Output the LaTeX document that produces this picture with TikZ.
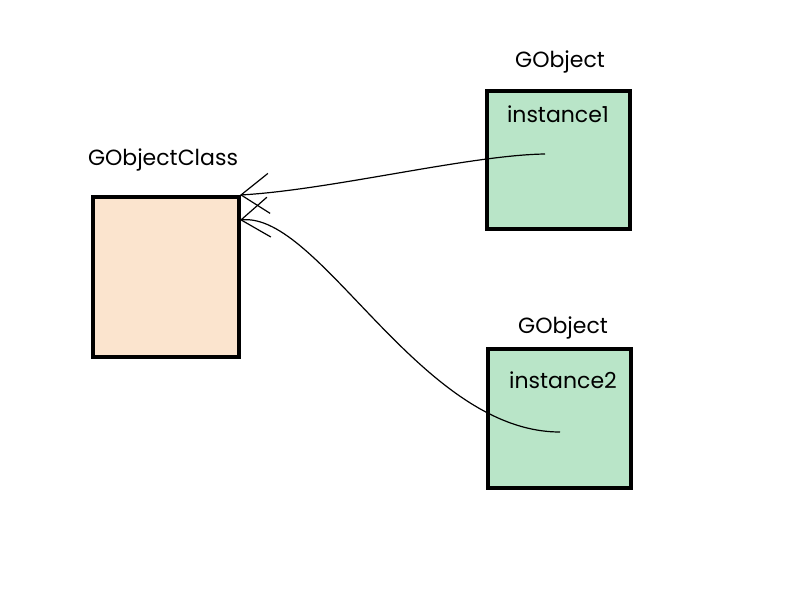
\documentclass[tikz,border=0pt]{standalone}
\usepackage{fontspec}
\setmainfont{Poppins}
\usetikzlibrary{arrows.meta}
\definecolor{clsfill}{HTML}{FBE4CE}
\definecolor{objfill}{HTML}{B9E5C8}
\tikzset{
  box/.style={draw=black, line width=3pt, inner sep=0pt},
  lbl/.style={font=\fontsize{16.5}{19}\selectfont, inner sep=0pt},
  link/.style={line width=0.9pt, -{Straight Barb[length=21pt, width=30pt, line width=0.9pt]}}
}
\begin{document}
\begin{tikzpicture}[x=0.75pt, y=-0.75pt]
\useasboundingbox (0,0) rectangle (800,600);
\node[box, fill=clsfill, minimum width=109.5pt, minimum height=120pt] (cls) at (166,277) {};
\node[box, fill=objfill, minimum width=107pt, minimum height=103.5pt] (obj1) at (558.5,160) {};
\node[box, fill=objfill, minimum width=107pt, minimum height=104pt] (obj2) at (559.5,418.5) {};
\node[lbl] (clslbl) at (163,160) {GObjectClass};
\node[lbl] (obj1lbl) at (560,62) {GObject};
\node[lbl] (obj2lbl) at (563,328) {GObject};
\node[lbl] (inst1) at (558,114) {instance1};
\node[lbl] (inst2) at (563,380) {instance2};
\coordinate (s1) at (545,154);
\coordinate (s2) at (560,432);
\coordinate (e1) at (240,195);
\coordinate (e2) at (240,220);
\draw[link] (s1) .. controls (470,155) and (330,190) .. (e1);
\draw[link] (s2) .. controls (420,432) and (320,212) .. (e2);
\end{tikzpicture}
\end{document}
